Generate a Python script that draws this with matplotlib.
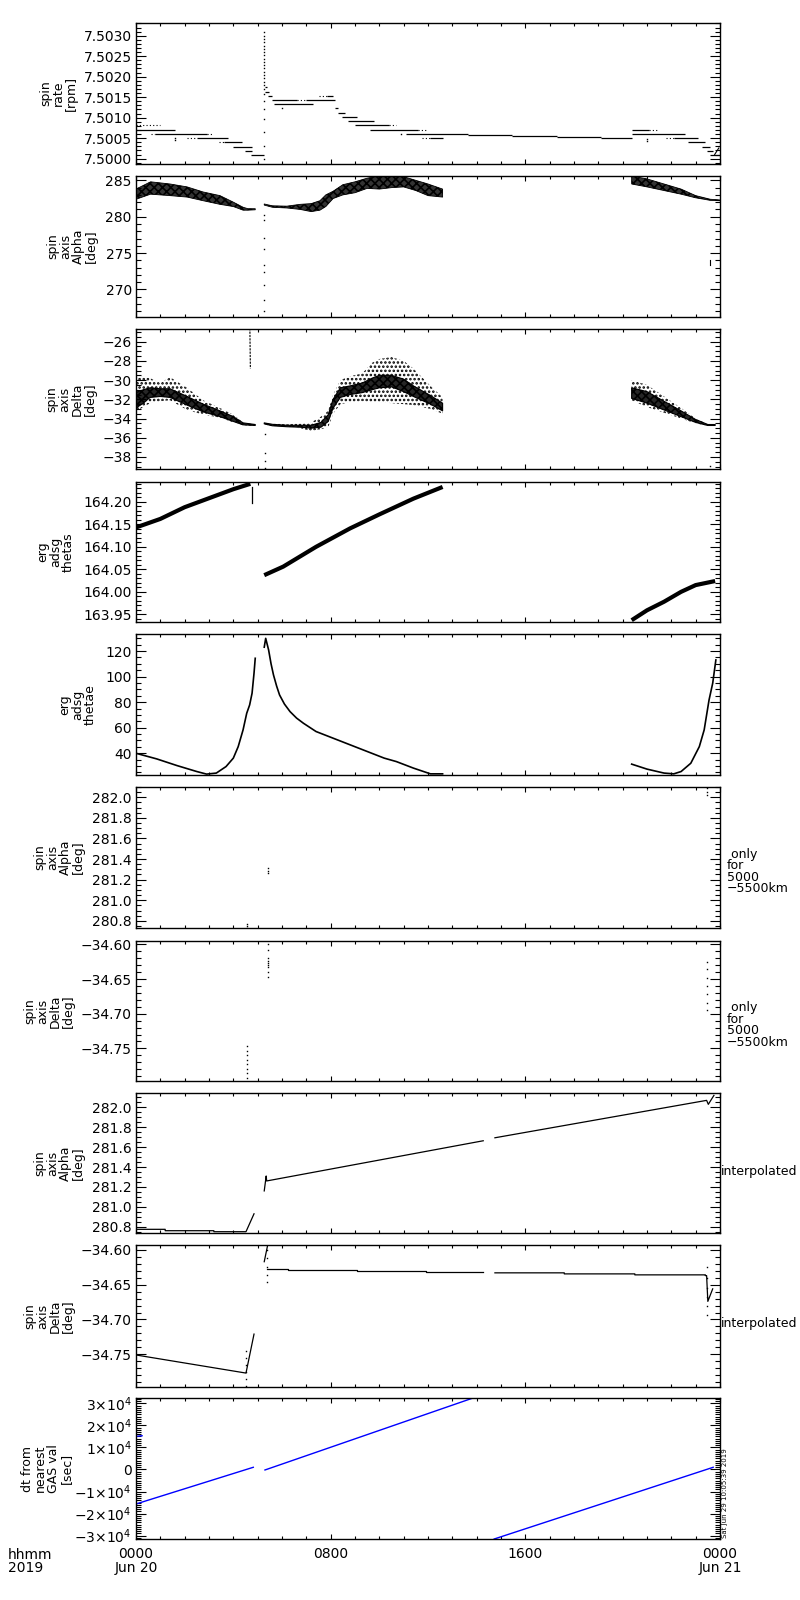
import numpy as np
import matplotlib
matplotlib.use("Agg")
from matplotlib import pyplot as plt
from matplotlib.ticker import MultipleLocator, FuncFormatter

plt.rcParams['font.family'] = ['DejaVu Sans']
plt.rcParams['hatch.linewidth'] = 1.2

# all times in hours after 2019-06-20 0000 UT

# ---- panel 1: spin rate [rpm], step levels ----
rate_start = [0.00, 0.00, 0.62, 0.80, 2.90, 2.10, 2.50, 3.40, 3.60, 4.00, 4.48, 4.73,
              5.30, 5.32, 5.42, 5.59, 6.60, 7.00, 5.67, 7.52, 7.85, 8.18, 8.32, 8.45, 8.70, 9.00, 10.40,
              9.60, 11.60, 11.10, 11.75, 12.10, 13.65, 15.45, 17.30, 19.10,
              20.37, 21.10, 20.37, 21.80, 22.10, 22.70, 23.27, 23.46, 23.60]
rate_end = [1.00, 1.62, 0.80, 2.90, 3.16, 2.50, 3.80, 3.60, 4.35, 4.77, 4.77, 5.27,
            5.40, 5.45, 5.60, 6.60, 7.00, 8.18, 7.28, 7.85, 8.10, 8.32, 8.60, 9.10, 9.80, 10.40, 10.70,
            11.60, 11.96, 13.65, 12.10, 12.60, 15.45, 17.30, 19.10, 20.40,
            21.10, 21.50, 22.57, 22.10, 23.10, 23.40, 23.60, 23.70, 24.00]
rate_val = [7.50082, 7.50070, 7.50060, 7.50060, 7.50060, 7.50051, 7.50051, 7.50040, 7.50040, 7.50028, 7.50019, 7.50009,
            7.50174, 7.50163, 7.50153, 7.50143, 7.50143, 7.50143, 7.50133, 7.50152, 7.50152, 7.50123, 7.50111, 7.50101,
            7.50091, 7.50082, 7.50082,
            7.50070, 7.50070, 7.50060, 7.50050, 7.50050, 7.50057, 7.50055, 7.50052, 7.50050,
            7.50070, 7.50070, 7.50060, 7.50050, 7.50050, 7.50040, 7.50028, 7.50019, 7.50009]
rate_dotted = [1, 0, 1, 0, 1, 1, 0, 1, 0, 0, 0, 0,
               0, 0, 0, 0, 1, 0, 0, 1, 0, 0, 0, 0, 0, 0, 1,
               0, 1, 0, 1, 0, 0, 0, 0, 0,
               0, 1, 0, 1, 0, 0, 0, 0, 0]
rate_dot_h = [1.62, 1.62, 6.02, 21.0, 21.0, 10.9]
rate_dot_v = [7.50050, 7.50045, 7.50123, 7.50048, 7.50044, 7.50060]
rate_tail_h = [23.78, 23.95]
rate_tail_v = [7.50010, 7.50026]
rate_spike_h = 5.28
rate_spike_v = [7.49998, 7.50030, 7.50065, 7.50098, 7.50120, 7.50140, 7.50158, 7.50170, 7.50180,
                7.50188, 7.50196, 7.50204, 7.50212, 7.50220, 7.50228, 7.50236, 7.50244, 7.50252,
                7.50260, 7.50268, 7.50276, 7.50284, 7.50292, 7.50300, 7.50308]

# ---- panel 2: spin axis Alpha [deg], scatter band envelopes ----
alpha_h = [[0, 0.6, 1.4, 2.1, 2.76, 3.45, 4.0, 4.4, 4.6, 4.9],
           [5.27, 5.6, 6.2, 6.75, 7.2, 7.56, 7.8, 8.1, 8.5, 9.0, 9.5, 10.0, 10.5, 11.0, 11.5, 12.0, 12.6],
           [20.37, 21.0, 21.7, 22.4, 23.0, 23.6, 24.0]]
alpha_lo = [[282.4, 283.1, 282.9, 282.7, 282.2, 281.7, 281.4, 280.9, 280.9, 280.95],
            [281.6, 281.3, 281.2, 281.0, 280.7, 280.9, 281.4, 282.5, 283.0, 283.3, 283.9, 283.8, 284.0, 284.1,
             283.6, 282.9, 282.7],
            [284.5, 284.1, 283.6, 283.1, 282.6, 282.25, 282.2]]
alpha_hi = [[283.8, 284.8, 284.5, 284.1, 283.4, 282.9, 282.0, 281.3, 281.1, 281.1],
            [281.75, 281.5, 281.45, 281.7, 281.8, 282.2, 283.0, 283.5, 284.4, 284.8, 285.3, 285.6, 285.6, 285.5,
             285.0, 284.5, 283.8],
            [285.6, 285.2, 284.5, 283.8, 282.9, 282.4, 282.3]]
alpha_spike_h = 5.28
alpha_spike_v = [280.3, 279.5, 277.1, 275.5, 273.3, 272.4, 270.6, 268.6, 267.0]
alpha_end_h = 23.6
alpha_end_v = [273.3, 273.6, 274.0]

# ---- panel 3: spin axis Delta [deg] ----
delta_h = [[0, 0.3, 0.58, 1.0, 1.4, 2.1, 2.76, 3.45, 4.0, 4.4, 4.9],
           [5.27, 5.6, 6.2, 6.75, 7.2, 7.6, 7.9, 8.1, 8.4, 8.8, 9.3, 9.7, 10.0, 10.5, 11.0, 11.4, 12.1, 12.6],
           [20.37, 21.0, 21.7, 22.4, 23.0, 23.5, 23.8]]
delta_out_lo = [[-33.3, -32.8, -32.4, -32.2, -32.1, -33.1, -33.6, -33.9, -34.4, -34.7, -34.75],
                [-34.6, -34.8, -34.9, -35.0, -35.3, -35.1, -34.9, -33.5, -32.5, -32.3, -32.2, -32.3, -32.3,
                 -32.4, -32.5, -32.6, -33.0, -33.5],
                [-32.1, -32.8, -33.4, -34.0, -34.5, -34.75, -34.75]]
delta_out_hi = [[-29.8, -29.6, -29.8, -30.3, -29.7, -30.8, -32.1, -32.9, -33.6, -34.4, -34.6],
                [-34.4, -34.5, -34.6, -34.5, -34.4, -33.8, -33.2, -31.5, -30.0, -29.6, -29.3, -28.2, -27.8,
                 -27.6, -28.0, -28.8, -30.6, -31.8],
                [-30.0, -30.5, -31.7, -32.9, -34.0, -34.6, -34.6]]
delta_core_lo = [[-32.9, -32.4, -31.8, -31.7, -31.8, -32.6, -33.3, -33.8, -34.3, -34.65, -34.72],
                 [-34.55, -34.75, -34.85, -34.9, -35.0, -34.9, -34.3, -32.9, -31.8, -31.5, -31.3, -31.0, -30.8,
                  -30.7, -31.2, -31.7, -32.5, -33.2],
                 [-31.9, -32.4, -33.1, -33.8, -34.4, -34.72, -34.72]]
delta_core_hi = [[-31.3, -31.0, -30.8, -30.9, -30.9, -31.7, -32.5, -33.2, -33.8, -34.45, -34.62],
                 [-34.45, -34.6, -34.7, -34.7, -34.7, -34.4, -33.6, -32.0, -30.8, -30.6, -30.3, -29.8, -29.5,
                  -29.5, -29.9, -30.6, -31.6, -32.4],
                 [-30.8, -31.2, -32.2, -33.2, -34.1, -34.62, -34.62]]
delta_spike_h = [4.68, 4.70]
delta_spike_v = [-24.6, -28.8]
delta_dot_h = [5.30, 5.30, 5.30, 5.30, 23.6]
delta_dot_v = [-35.6, -37.6, -38.4, -39.1, -38.9]

# ---- panel 4: erg adsg thetas ----
thetas_h = [[0, 1, 2, 3, 4, 4.7],
            [5.27, 6.05, 7.4, 8.8, 10.0, 11.4, 12.6],
            [20.37, 21.0, 21.7, 22.4, 23.0, 23.8]]
thetas_v = [[164.143, 164.162, 164.188, 164.208, 164.228, 164.240],
            [164.037, 164.056, 164.100, 164.141, 164.172, 164.207, 164.233],
            [163.937, 163.959, 163.978, 164.000, 164.015, 164.024]]
thetas_drop_h = [4.75, 4.75]
thetas_drop_v = [164.233, 164.198]

# ---- panel 5: erg adsg thetae ----
thetae_h = [[0, 0.85, 1.68, 2.5, 2.9, 3.3, 3.7, 4.0, 4.2, 4.4, 4.55, 4.67, 4.77, 4.85, 4.9],
            [5.27, 5.33, 5.45, 5.55, 5.65, 5.78, 5.9, 6.1, 6.33, 6.6, 6.88, 7.4, 8.1, 8.8, 9.5, 10.2, 10.7,
             11.4, 12.1, 12.6],
            [20.37, 21.0, 21.7, 22.1, 22.4, 22.8, 23.15, 23.35, 23.55, 23.7, 23.83]]
thetae_v = [[40.0, 35.6, 30.4, 25.7, 23.7, 24.5, 29.6, 36.2, 45.2, 58.3, 71.3, 77.8, 87.0, 102.6, 114.3],
            [123.0, 129.9, 120.8, 110.0, 101.3, 92.5, 85.6, 78.5, 72.6, 67.5, 63.5, 57.0, 51.8, 46.6, 41.4,
             36.2, 33.5, 28.4, 23.9, 23.9],
            [31.5, 27.6, 24.5, 23.9, 25.7, 32.2, 45.2, 58.3, 81.7, 94.8, 113.0]]

# ---- panels 6/7: only for 5000-5500 km (isolated points) ----
alpha_r_h = [4.55, 4.55, 4.55, 5.44, 5.44, 5.44, 23.45, 23.45, 23.45]
alpha_r_v = [280.73, 280.75, 280.77, 281.26, 281.28, 281.31, 282.02, 282.05, 282.09]
delta_r_h = [5.44] * 9 + [4.55] * 8 + [23.45] * 7
delta_r_v = [-34.600, -34.608, -34.620, -34.624, -34.627, -34.630, -34.633, -34.640, -34.647,
             -34.747, -34.753, -34.760, -34.766, -34.772, -34.780, -34.786, -34.793,
             -34.625, -34.635, -34.648, -34.660, -34.672, -34.684, -34.695]

# ---- panel 8: Alpha interpolated ----
alpha_i_h = [[0, 1.2, 1.2, 3.2, 3.2, 4.52, 4.85],
             [5.27, 5.35, 5.37, 14.27],
             [14.75, 23.45, 23.52, 23.75]]
alpha_i_v = [[280.774, 280.774, 280.760, 280.760, 280.750, 280.750, 280.930],
             [281.16, 281.31, 281.26, 281.664],
             [281.694, 282.070, 282.030, 282.120]]

# ---- panel 9: Delta interpolated ----
delta_i_h = [[0, 4.52, 4.85],
             [5.27, 5.40],
             [5.40, 6.23, 6.23, 9.10, 9.10, 11.9, 11.9, 14.27],
             [14.75, 17.6, 17.6, 20.5, 20.5, 23.4, 23.4, 23.45, 23.5, 23.7]]
delta_i_v = [[-34.751, -34.777, -34.721],
             [-34.617, -34.595],
             [-34.6277, -34.6277, -34.6283, -34.6283, -34.6297, -34.6297, -34.6316, -34.6316],
             [-34.6330, -34.6330, -34.6345, -34.6345, -34.6359, -34.6359, -34.637, -34.637, -34.674, -34.656]]
delta_i_dot_h = [4.52] * 6 + [5.40] * 5 + [23.45] * 6
delta_i_dot_v = [-34.745, -34.755, -34.765, -34.775, -34.785, -34.795,
                 -34.600, -34.612, -34.624, -34.636, -34.646,
                 -34.624, -34.640, -34.655, -34.668, -34.680, -34.693]

# ---- panel 10: dt from nearest GAS val [sec] ----
dt_h = [[0.0, 0.25], [0.0, 4.82], [5.30, 13.85], [14.72, 23.72]]
dt_v = [[15000, 15300], [-15630, 1000], [-220, 32400], [-31500, 1000]]

# ---- layout (pixels from top of an 800x1600 figure) ----
tops = [23, 176, 329, 482, 634, 787, 941, 1093, 1245, 1398]
bots = [164, 317, 469, 622, 775, 928, 1081, 1233, 1387, 1539]
ylims = [(7.49987, 7.50331), (266.2, 285.6), (-39.25, -24.68), (163.933, 164.244), (23.0, 133.3),
         (280.73, 282.10), (-34.797, -34.595), (280.737, 282.144), (-34.797, -34.593), (-31500, 32400)]
majors = [0.0005, 5, 2, 0.05, 20, 0.2, 0.05, 0.2, 0.05, 1e4]
minors = [0.0001, 1, 0.5, 0.01, 5, 0.05, 0.01, 0.05, 0.01, 1000]
fmts = ['%.4f', '%d', '%d', '%.2f', '%d', '%.1f', '%.2f', '%.1f', '%.2f', None]
titles = ["spin\nrate\n[rpm]", "spin\naxis\nAlpha\n[deg]", "spin\naxis\nDelta\n[deg]", "erg\nadsg\nthetas",
          "erg\nadsg\nthetae", "spin\naxis\nAlpha\n[deg]", "spin\naxis\nDelta\n[deg]", "spin\naxis\nAlpha\n[deg]",
          "spin\naxis\nDelta\n[deg]", "dt from\nnearest\nGAS val\n[sec]"]
title_right = [78, 98, 97, 75, 97, 85, 75, 85, 75, 73]


def make_fmt(f):
    return FuncFormatter(lambda v, pos: (f % v).replace('-', '\u2212'))


W, H = 800, 1600
fig = plt.figure(figsize=(8, 16), dpi=100)
axes = []
for i in range(10):
    ax = fig.add_axes([136 / W, 1 - bots[i] / H, 584 / W, (bots[i] - tops[i]) / H])
    ax.set_xlim(0, 24)
    ax.set_ylim(*ylims[i])
    ax.xaxis.set_major_locator(MultipleLocator(8))
    ax.xaxis.set_minor_locator(MultipleLocator(1))
    ax.yaxis.set_major_locator(MultipleLocator(majors[i]))
    ax.yaxis.set_minor_locator(MultipleLocator(minors[i]))
    if fmts[i]:
        ax.yaxis.set_major_formatter(make_fmt(fmts[i]))
    ax.tick_params(axis='both', which='both', direction='in', top=True, right=True, width=0.8, colors='black')
    ax.tick_params(axis='y', which='major', length=7.2, labelsize=10, pad=3)
    ax.tick_params(axis='y', which='minor', length=3.6)
    ax.tick_params(axis='x', which='major', length=3.6, labelsize=10, pad=6)
    ax.tick_params(axis='x', which='minor', length=2.0)
    for s in ax.spines.values():
        s.set_linewidth(1.0)
    if i < 9:
        ax.set_xticklabels([])
    cy = 1 - (tops[i] + bots[i]) / 2 / H
    fig.text(title_right[i] / W, cy, titles[i], rotation=90, ha='right', va='center',
             fontsize=9, linespacing=1.0, multialignment='center')
    axes.append(ax)

# panel 1
ax = axes[0]
for s, e, v, d in zip(rate_start, rate_end, rate_val, rate_dotted):
    if d:
        ax.hlines(v, s, e, colors='black', lw=0.8, linestyles=(0, (1, 2)))
    else:
        ax.hlines(v, s, e, colors='black', lw=0.9)
ax.plot(rate_dot_h, rate_dot_v, 's', color='black', ms=1.0, mew=0)
ax.plot(rate_tail_h, rate_tail_v, color='black', lw=0.8)
ax.plot([rate_spike_h] * len(rate_spike_v), rate_spike_v, 's', color='black', ms=1.0, mew=0)

# panel 2
ax = axes[1]
for h, lo, hi in zip(alpha_h, alpha_lo, alpha_hi):
    ax.fill_between(h, lo, hi, facecolor='0.2', hatch='xxxx', edgecolor='black', lw=0.6)
ax.plot([alpha_spike_h] * len(alpha_spike_v), alpha_spike_v, 's', color='black', ms=1.0, mew=0)
ax.plot([alpha_end_h] * len(alpha_end_v), alpha_end_v, color='black', lw=0.8)

# panel 3: sparse outer scatter, dense core
ax = axes[2]
for h, lo, hi in zip(delta_h, delta_out_lo, delta_out_hi):
    ax.fill_between(h, lo, hi, facecolor='none', hatch='....', edgecolor='black', lw=0)
for h, lo, hi in zip(delta_h, delta_core_lo, delta_core_hi):
    ax.fill_between(h, lo, hi, facecolor='0.15', hatch='xxxx', edgecolor='black', lw=0.8)
ax.plot(delta_spike_h, delta_spike_v, color='black', lw=0.8, ls=(0, (2, 1)))
ax.plot(delta_dot_h, delta_dot_v, 's', color='black', ms=1.0, mew=0)

# panel 4
ax = axes[3]
for h, v in zip(thetas_h, thetas_v):
    ax.plot(h, v, color='black', lw=3.0, solid_capstyle='butt')
ax.plot(thetas_drop_h, thetas_drop_v, color='black', lw=0.9)

# panel 5
ax = axes[4]
for h, v in zip(thetae_h, thetae_v):
    ax.plot(h, v, color='black', lw=1.2)

# panels 6, 7
axes[5].plot(alpha_r_h, alpha_r_v, 's', color='black', ms=1.0, mew=0)
axes[6].plot(delta_r_h, delta_r_v, 's', color='black', ms=1.0, mew=0)

# panel 8
for h, v in zip(alpha_i_h, alpha_i_v):
    axes[7].plot(h, v, color='black', lw=0.9)

# panel 9
for h, v in zip(delta_i_h, delta_i_v):
    axes[8].plot(h, v, color='black', lw=0.9)
axes[8].plot(delta_i_dot_h, delta_i_dot_v, 's', color='black', ms=1.0, mew=0)

# panel 10
ax = axes[9]
for h, v in zip(dt_h, dt_v):
    ax.plot(h, v, color='#0000ff', lw=1.0)


def sci(v, pos):
    if abs(v) < 1:
        return '0'
    k = int(round(v / 1e4))
    return ('%d\u00d710$^{4}$' % k).replace('-', '\u2212')


ax.yaxis.set_major_formatter(FuncFormatter(sci))
ax.set_xticks([0, 8, 16, 24])
ax.set_xticklabels(["0000\nJun 20", "0800", "1600", "0000\nJun 21"])
for lab in ax.get_xticklabels():
    lab.set_linespacing(0.95)

# side notes
for i in (5, 6):
    cy = 1 - ((tops[i] + bots[i]) / 2 + 14) / H
    fig.text(727 / W, cy, " only\nfor\n5000\n\u22125500km", ha='left', va='center',
             fontsize=9, linespacing=0.85)
for i in (7, 8):
    cy = 1 - ((tops[i] + bots[i]) / 2 + 8) / H
    fig.text(721 / W, cy, "interpolated", ha='left', va='center', fontsize=9)

fig.text(8 / W, 1 - 1548 / H, "hhmm\n2019", ha='left', va='top', fontsize=10, linespacing=0.95)
fig.text(722 / W, 1 - 1538 / H, "Sat Jun 29 10:05:39 2019", rotation=90, ha='left', va='bottom',
         fontsize=5)

fig.savefig("out.png", dpi=100)
